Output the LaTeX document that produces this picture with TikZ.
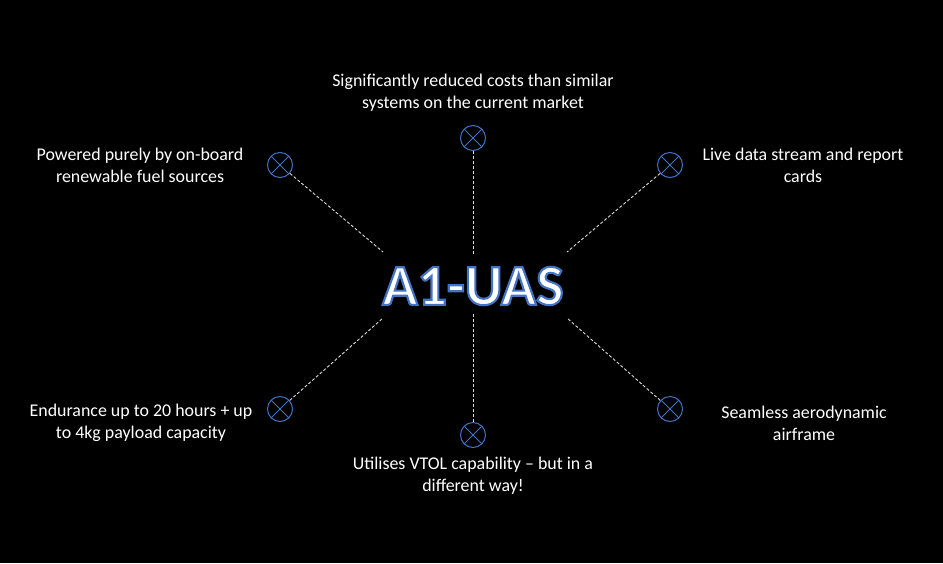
\documentclass[tikz,border=0pt]{standalone}
\usepackage{fontspec}
\setmainfont{Carlito}
\definecolor{accentblue}{RGB}{68,114,196}
\definecolor{dashgray}{RGB}{220,220,220}
\tikzset{
  mark circ/.style={circle, draw=accentblue, line width=1pt, minimum size=25pt, inner sep=0pt,
    path picture={\draw[accentblue, line width=1pt] (path picture bounding box.north west) -- (path picture bounding box.south east)
      (path picture bounding box.north east) -- (path picture bounding box.south west);}},
  conn/.style={draw=dashgray, line width=0.9pt, dash pattern=on 3pt off 2pt},
  lbl/.style={text=white, align=center, font=\fontsize{17.9}{22}\selectfont, inner sep=0pt}
}
\newcommand{\titletext}{\fontsize{58}{60}\selectfont\bfseries\special{pdf:literal direct 2 Tr 2.1 w 0.267 0.447 0.769 RG}A1-UAS\special{pdf:literal direct 0 Tr}}
\begin{document}
\begin{tikzpicture}[x=1pt,y=-1pt]
\fill[black] (0,0) rectangle (943,563);
\useasboundingbox (0,0) rectangle (943,563);
% title with outline
\node[text=white, inner sep=0pt] (title) at (473,286) {\titletext};
% markers
\node[mark circ] (ctl) at (280,165) {};
\node[mark circ] (ct) at (473,138) {};
\node[mark circ] (ctr) at (670,165) {};
\node[mark circ] (cbl) at (280,409) {};
\node[mark circ] (cb) at (473,435) {};
\node[mark circ] (cbr) at (670,409) {};
% inner ends
\coordinate (etl) at (383,252);
\coordinate (et) at (473,255);
\coordinate (etr) at (567,252);
\coordinate (ebl) at (383,318);
\coordinate (eb) at (473,314);
\coordinate (ebr) at (567,318);
\draw[conn] (ctl) -- (etl);
\draw[conn] (ct) -- (et);
\draw[conn] (ctr) -- (etr);
\draw[conn] (cbl) -- (ebl);
\draw[conn] (cb) -- (eb);
\draw[conn] (cbr) -- (ebr);
% labels
\node[lbl] (lt) at (473,92.5) {Significantly reduced costs than similar\\systems on the current market};
\node[lbl] (ltl) at (140,165.5) {Powered purely by on-board\\renewable fuel sources};
\node[lbl] (ltr) at (803,165.5) {Live data stream and report\\cards};
\node[lbl] (lbl) at (141,422.5) {Endurance up to 20 hours + up\\to 4kg payload capacity};
\node[lbl] (lbr) at (804,423.5) {Seamless aerodynamic\\airframe};
\node[lbl] (lb) at (473,475.5) {Utilises VTOL capability -- but in a\\different way!};
\end{tikzpicture}
\end{document}
